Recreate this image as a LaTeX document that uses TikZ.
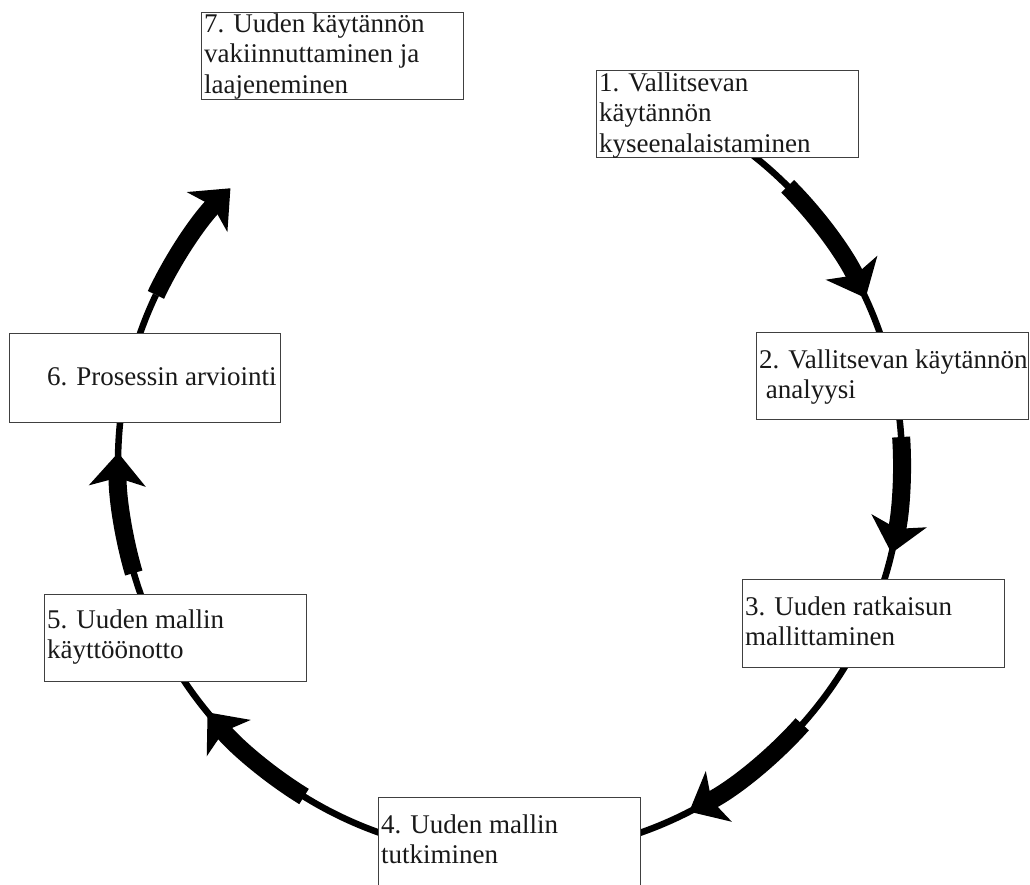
\documentclass[tikz,border=0pt]{standalone}
\usepackage{fontspec}
\setmainfont{Liberation Serif}
\usetikzlibrary{arrows.meta}
\begin{document}
\begin{tikzpicture}[x=1pt,y=1pt,
  box/.style={draw=black!75, line width=1.3pt, fill=white, rectangle, inner sep=0pt, anchor=north west},
  txt/.style={inner sep=0pt, anchor=base west, align=left, font=\fontsize{27}{30.5}\selectfont, text=black!90},
  ring/.style={line width=6.5pt},
  shaft/.style={line width=18pt, -{Stealth[length=33pt,width=56pt,inset=8pt]}}]
\useasboundingbox (0,0) rectangle (1030,-884);
\clip (0,0) rectangle (1030,-884);
\coordinate (c) at (510,-463);
% thin ring
\coordinate (r0) at ([shift={(53:392)}]c);
\draw[ring] (r0) arc[start angle=53, end angle=-205.4, radius=392];
% boxes
\node[box, minimum width=262pt, minimum height=87pt] (b7) at (201,-12) {};
\node[box, minimum width=262pt, minimum height=87pt] (b1) at (596,-70) {};
\node[box, minimum width=272pt, minimum height=87pt] (b2) at (756,-332) {};
\node[box, minimum width=262pt, minimum height=88pt] (b3) at (742,-579) {};
\node[box, minimum width=262pt, minimum height=100pt] (b4) at (378,-797) {};
\node[box, minimum width=262pt, minimum height=87pt] (b5) at (44,-594) {};
\node[box, minimum width=271pt, minimum height=89pt] (b6) at (9,-333) {};
% texts (anchored at baseline of last line)
\node[txt] (t7) at (204,-93) {7. Uuden käytännön\\vakiinnuttaminen ja\\laajeneminen};
\node[txt] (t1) at (599,-152) {1. Vallitsevan\\käytännön\\kyseenalaistaminen};
\node[txt] (t2) at (759,-398.5) {2. Vallitsevan käytännön\\\ analyysi};
\node[txt] (t3) at (745,-645.5) {3. Uuden ratkaisun\\mallittaminen};
\node[txt] (t4) at (381,-863.5) {4. Uuden mallin\\tutkiminen};
\node[txt] (t5) at (47,-658.5) {5. Uuden mallin\\käyttöönotto};
\node[txt] (t6) at (47,-385) {6. Prosessin arviointi};
% thick arrows
\coordinate (a1) at ([shift={(44.9:392)}]c);
\coordinate (a2) at ([shift={(3.8:392)}]c);
\coordinate (a3) at ([shift={(-41.8:392)}]c);
\coordinate (a4) at ([shift={(-121.7:392)}]c);
\coordinate (a5) at ([shift={(-163.7:392)}]c);
\coordinate (a6) at ([shift={(-205.4:392)}]c);
\draw[shaft] (a1) arc[start angle=44.9, end angle=24.9, radius=392];
\draw[shaft] (a2) arc[start angle=3.8, end angle=-13.3, radius=392];
\draw[shaft] (a3) arc[start angle=-41.8, end angle=-62.8, radius=392];
\draw[shaft] (a4) arc[start angle=-121.7, end angle=-140.5, radius=392];
\draw[shaft] (a5) arc[start angle=-163.7, end angle=-181.5, radius=392];
\draw[shaft] (a6) arc[start angle=-205.4, end angle=-224.5, radius=392];
\end{tikzpicture}
\end{document}
